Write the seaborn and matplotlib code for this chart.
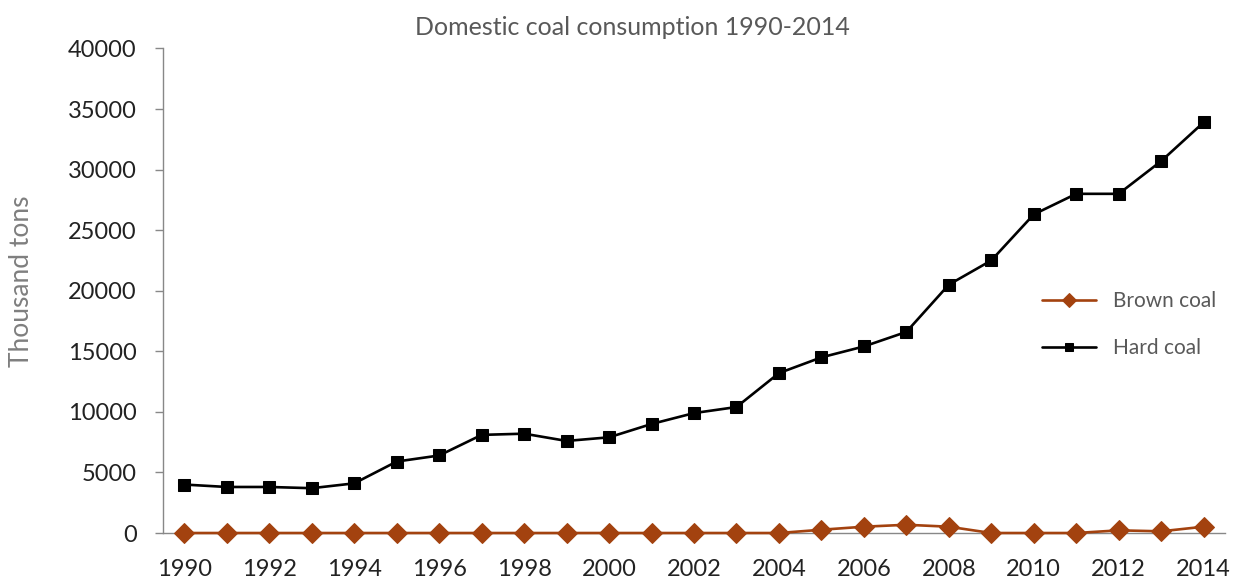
import numpy as np
import pandas as pd
import seaborn as sns
import matplotlib.pyplot as plt

years = list(range(1990, 2015))
hard_coal = [4000, 3800, 3800, 3700, 4100, 5900, 6400, 8100, 8200, 7600, 7900, 9000, 9900,
             10400, 13200, 14500, 15400, 16600, 20500, 22500, 26300, 28000, 28000, 30700, 33900]
brown_coal = [0, 0, 0, 0, 0, 0, 0, 0, 0, 0, 0, 0, 0,
              0, 0, 270, 520, 680, 520, 0, 0, 0, 220, 140, 520]

sns.set_style("white")
plt.rcParams['font.family'] = ['Lato', 'DejaVu Sans']

df = pd.DataFrame({'Year': years, 'Brown coal': brown_coal, 'Hard coal': hard_coal})

fig = plt.figure(figsize=(12.36, 5.81), dpi=100)
ax = fig.add_axes([0.132, 0.0826, 0.859, 0.834])

sns.lineplot(data=df, x='Year', y='Brown coal', ax=ax, color='#A3420F', marker='D',
             markersize=10.5, markeredgecolor='#A3420F', linewidth=1.9, label='Brown coal',
             clip_on=False, zorder=5)
sns.lineplot(data=df, x='Year', y='Hard coal', ax=ax, color='black', marker='s',
             markersize=9, markeredgecolor='black', linewidth=1.9, label='Hard coal',
             clip_on=False, zorder=5)

ax.set_xlim(1989.5, 2014.5)
ax.set_ylim(0, 40000)
ax.set_yticks(np.arange(0, 40001, 5000))
ax.set_xticks(years[::2])
ax.set_xticks(np.arange(1989.5, 2015, 1), minor=True)
ax.tick_params(axis='x', which='major', length=0, labelsize=17, colors='#222222', pad=19)
ax.tick_params(axis='x', which='minor', length=6, color='#888888', width=1, direction='out')
ax.tick_params(axis='y', length=6, color='#888888', width=1, direction='out', labelsize=17,
               labelcolor='#222222', left=True, pad=13)

for s in ['top', 'right']:
    ax.spines[s].set_visible(False)
for s in ['left', 'bottom']:
    ax.spines[s].set_color('#888888')
    ax.spines[s].set_linewidth(1)

ax.set_xlabel('')
ax.set_ylabel('Thousand tons', fontsize=19, color='#7F7F7F')
ax.yaxis.set_label_coords(-0.122, 0.52)
fig.text(0.512, 0.952, 'Domestic coal consumption 1990-2014', fontsize=18, color='#595959',
         ha='center', va='center')

leg = ax.legend(loc='center left', bbox_to_anchor=(0.81, 0.33, 0.15, 0.2), frameon=False,
                fontsize=15, labelspacing=1.3, handlelength=2.6, markerscale=0.7)
for t in leg.get_texts():
    t.set_color('#595959')

fig.savefig('out.png', dpi=100)
